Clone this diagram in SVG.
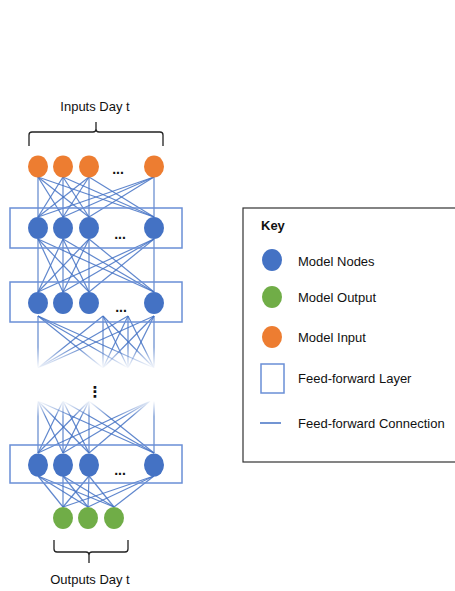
<svg xmlns="http://www.w3.org/2000/svg" width="455" height="591" viewBox="0 0 455 591">
<style>
text{font-family:"Liberation Sans",Arial,sans-serif;font-size:13px;fill:#111}
.c line{stroke:#4472C4;stroke-width:1.2;stroke-opacity:0.85}
.c line.fd{stroke:url(#fadeDown)}
.c line.fu{stroke:url(#fadeUp)}
.layer{fill:none;stroke:#6a8fd6;stroke-width:1.5}
.node{fill:#4472C4}
.inp{fill:#ED7D31}
.out{fill:#70AD47}
.dots{font-weight:bold;font-size:14px}
.vdots{font-family:"DejaVu Sans",sans-serif;font-weight:bold;font-size:15px}
.brace{fill:none;stroke:#222;stroke-width:1.3}
</style>
<defs>
<linearGradient id="fadeDown" gradientUnits="userSpaceOnUse" x1="0" y1="316" x2="0" y2="368">
<stop offset="0" stop-color="#4472C4"/>
<stop offset="0.6" stop-color="#4472C4"/>
<stop offset="1" stop-color="#4472C4" stop-opacity="0"/>
</linearGradient>
<linearGradient id="fadeUp" gradientUnits="userSpaceOnUse" x1="0" y1="401" x2="0" y2="453">
<stop offset="0" stop-color="#4472C4" stop-opacity="0"/>
<stop offset="0.3" stop-color="#4472C4"/>
<stop offset="1" stop-color="#4472C4"/>
</linearGradient>
</defs>

<g id="connectors" class="c">
<g id="c-in-l1">
<line x1="38" y1="177" x2="38" y2="217"/><line x1="38" y1="177" x2="63" y2="217"/><line x1="38" y1="177" x2="89" y2="217"/><line x1="38" y1="177" x2="154" y2="217"/>
<line x1="63" y1="177" x2="38" y2="217"/><line x1="63" y1="177" x2="63" y2="217"/><line x1="63" y1="177" x2="89" y2="217"/><line x1="63" y1="177" x2="154" y2="217"/>
<line x1="89" y1="177" x2="38" y2="217"/><line x1="89" y1="177" x2="63" y2="217"/><line x1="89" y1="177" x2="89" y2="217"/><line x1="89" y1="177" x2="154" y2="217"/>
<line x1="154" y1="177" x2="38" y2="217"/><line x1="154" y1="177" x2="63" y2="217"/><line x1="154" y1="177" x2="89" y2="217"/><line x1="154" y1="177" x2="154" y2="217"/>
</g>
<g id="c-l1-l2">
<line x1="38" y1="239" x2="38" y2="292"/><line x1="38" y1="239" x2="63" y2="292"/><line x1="38" y1="239" x2="89" y2="292"/><line x1="38" y1="239" x2="154" y2="292"/>
<line x1="63" y1="239" x2="38" y2="292"/><line x1="63" y1="239" x2="63" y2="292"/><line x1="63" y1="239" x2="89" y2="292"/><line x1="63" y1="239" x2="154" y2="292"/>
<line x1="89" y1="239" x2="38" y2="292"/><line x1="89" y1="239" x2="63" y2="292"/><line x1="89" y1="239" x2="89" y2="292"/><line x1="89" y1="239" x2="154" y2="292"/>
<line x1="154" y1="239" x2="38" y2="292"/><line x1="154" y1="239" x2="63" y2="292"/><line x1="154" y1="239" x2="89" y2="292"/><line x1="154" y1="239" x2="154" y2="292"/>
</g>
<g id="c-l2-fade">
<line class="fd" x1="38" y1="316" x2="38" y2="368"/><line class="fd" x1="38" y1="316" x2="103" y2="368"/><line class="fd" x1="38" y1="316" x2="128" y2="368"/><line class="fd" x1="38" y1="316" x2="154" y2="368"/>
<line class="fd" x1="103" y1="316" x2="38" y2="368"/><line class="fd" x1="103" y1="316" x2="103" y2="368"/><line class="fd" x1="103" y1="316" x2="128" y2="368"/><line class="fd" x1="103" y1="316" x2="154" y2="368"/>
<line class="fd" x1="128" y1="316" x2="38" y2="368"/><line class="fd" x1="128" y1="316" x2="103" y2="368"/><line class="fd" x1="128" y1="316" x2="128" y2="368"/><line class="fd" x1="128" y1="316" x2="154" y2="368"/>
<line class="fd" x1="154" y1="316" x2="38" y2="368"/><line class="fd" x1="154" y1="316" x2="103" y2="368"/><line class="fd" x1="154" y1="316" x2="128" y2="368"/><line class="fd" x1="154" y1="316" x2="154" y2="368"/>
</g>
<g id="c-fade-l3">
<line class="fu" x1="38" y1="401" x2="38" y2="453"/><line class="fu" x1="38" y1="401" x2="63" y2="453"/><line class="fu" x1="38" y1="401" x2="89" y2="453"/><line class="fu" x1="38" y1="401" x2="154" y2="453"/>
<line class="fu" x1="63" y1="401" x2="38" y2="453"/><line class="fu" x1="63" y1="401" x2="63" y2="453"/><line class="fu" x1="63" y1="401" x2="89" y2="453"/><line class="fu" x1="63" y1="401" x2="154" y2="453"/>
<line class="fu" x1="89" y1="401" x2="38" y2="453"/><line class="fu" x1="89" y1="401" x2="63" y2="453"/><line class="fu" x1="89" y1="401" x2="89" y2="453"/><line class="fu" x1="89" y1="401" x2="154" y2="453"/>
<line class="fu" x1="150" y1="401" x2="38" y2="453"/><line class="fu" x1="150" y1="401" x2="63" y2="453"/><line class="fu" x1="150" y1="401" x2="89" y2="453"/><line class="fu" x1="154" y1="401" x2="154" y2="453"/>
</g>
<g id="c-l3-out">
<line x1="38" y1="476" x2="63" y2="507"/><line x1="38" y1="476" x2="88" y2="507"/><line x1="38" y1="476" x2="114" y2="507"/>
<line x1="63" y1="476" x2="63" y2="507"/><line x1="63" y1="476" x2="88" y2="507"/><line x1="63" y1="476" x2="114" y2="507"/>
<line x1="89" y1="476" x2="63" y2="507"/><line x1="89" y1="476" x2="88" y2="507"/><line x1="89" y1="476" x2="114" y2="507"/>
<line x1="154" y1="476" x2="63" y2="507"/><line x1="154" y1="476" x2="88" y2="507"/><line x1="154" y1="476" x2="114" y2="507"/>
</g>
</g>

<g id="inputs-label">
<text x="95" y="111" text-anchor="middle">Inputs Day t</text>
<path class="brace" d="M29,146 V135 Q29,132 32,132 H93 Q96,132 96,129 V122 M96,129 Q96,132 99,132 H160 Q163,132 163,135 V146"/>
</g>

<g id="input-layer">
<ellipse class="inp" cx="38" cy="166.5" rx="10" ry="11"/>
<ellipse class="inp" cx="63" cy="166.5" rx="10" ry="11"/>
<ellipse class="inp" cx="89" cy="166.5" rx="10" ry="11"/>
<ellipse class="inp" cx="154" cy="166.5" rx="10" ry="11"/>
<text class="dots" x="118" y="174" text-anchor="middle">...</text>
</g>

<g id="layer1">
<rect class="layer" x="10" y="208" width="172" height="40"/>
<ellipse class="node" cx="38" cy="228" rx="10" ry="11"/>
<ellipse class="node" cx="63" cy="228" rx="10" ry="11"/>
<ellipse class="node" cx="89" cy="228" rx="10" ry="11"/>
<ellipse class="node" cx="154" cy="228" rx="10" ry="11"/>
<text class="dots" x="120" y="239" text-anchor="middle">...</text>
</g>

<g id="layer2">
<rect class="layer" x="10" y="282" width="172" height="40"/>
<ellipse class="node" cx="38" cy="303" rx="10" ry="11"/>
<ellipse class="node" cx="63" cy="303" rx="10" ry="11"/>
<ellipse class="node" cx="89" cy="303" rx="10" ry="11"/>
<ellipse class="node" cx="154" cy="303" rx="10" ry="11"/>
<text class="dots" x="121" y="312" text-anchor="middle">...</text>
</g>

<g id="vdots">
<text class="vdots" x="95" y="397" text-anchor="middle">⋮</text>
</g>

<g id="layer3">
<rect class="layer" x="10" y="445" width="172" height="38"/>
<ellipse class="node" cx="38" cy="465" rx="10" ry="11.5"/>
<ellipse class="node" cx="63" cy="465" rx="10" ry="11.5"/>
<ellipse class="node" cx="89" cy="465" rx="10" ry="11.5"/>
<ellipse class="node" cx="154" cy="465" rx="10" ry="11.5"/>
<text class="dots" x="120" y="475" text-anchor="middle">...</text>
</g>

<g id="outputs">
<ellipse class="out" cx="63" cy="518" rx="10" ry="11"/>
<ellipse class="out" cx="88" cy="518" rx="10" ry="11"/>
<ellipse class="out" cx="114" cy="518" rx="10" ry="11"/>
</g>

<g id="outputs-label">
<path class="brace" d="M54,540 V549 Q54,552 57,552 H86 Q89,552 89,555 V563 M89,555 Q89,552 92,552 H125 Q128,552 128,549 V540"/>
<text x="90" y="584" text-anchor="middle">Outputs Day t</text>
</g>

<g id="key">
<rect x="243" y="208" width="216" height="254" fill="#fff" stroke="#333" stroke-width="1.2"/>
<text x="261" y="230" font-weight="bold">Key</text>
<ellipse class="node" cx="272" cy="260" rx="10" ry="11"/>
<text x="298" y="266">Model Nodes</text>
<ellipse class="out" cx="272" cy="297" rx="10" ry="11"/>
<text x="298" y="302">Model Output</text>
<ellipse class="inp" cx="272" cy="337" rx="10" ry="11"/>
<text x="298" y="342">Model Input</text>
<rect class="layer" x="261" y="364" width="23" height="29"/>
<text x="298" y="383">Feed-forward Layer</text>
<line x1="260" y1="423" x2="281" y2="423" stroke="#4472C4" stroke-width="1.5"/>
<text x="298" y="428">Feed-forward Connection</text>
</g>
</svg>
